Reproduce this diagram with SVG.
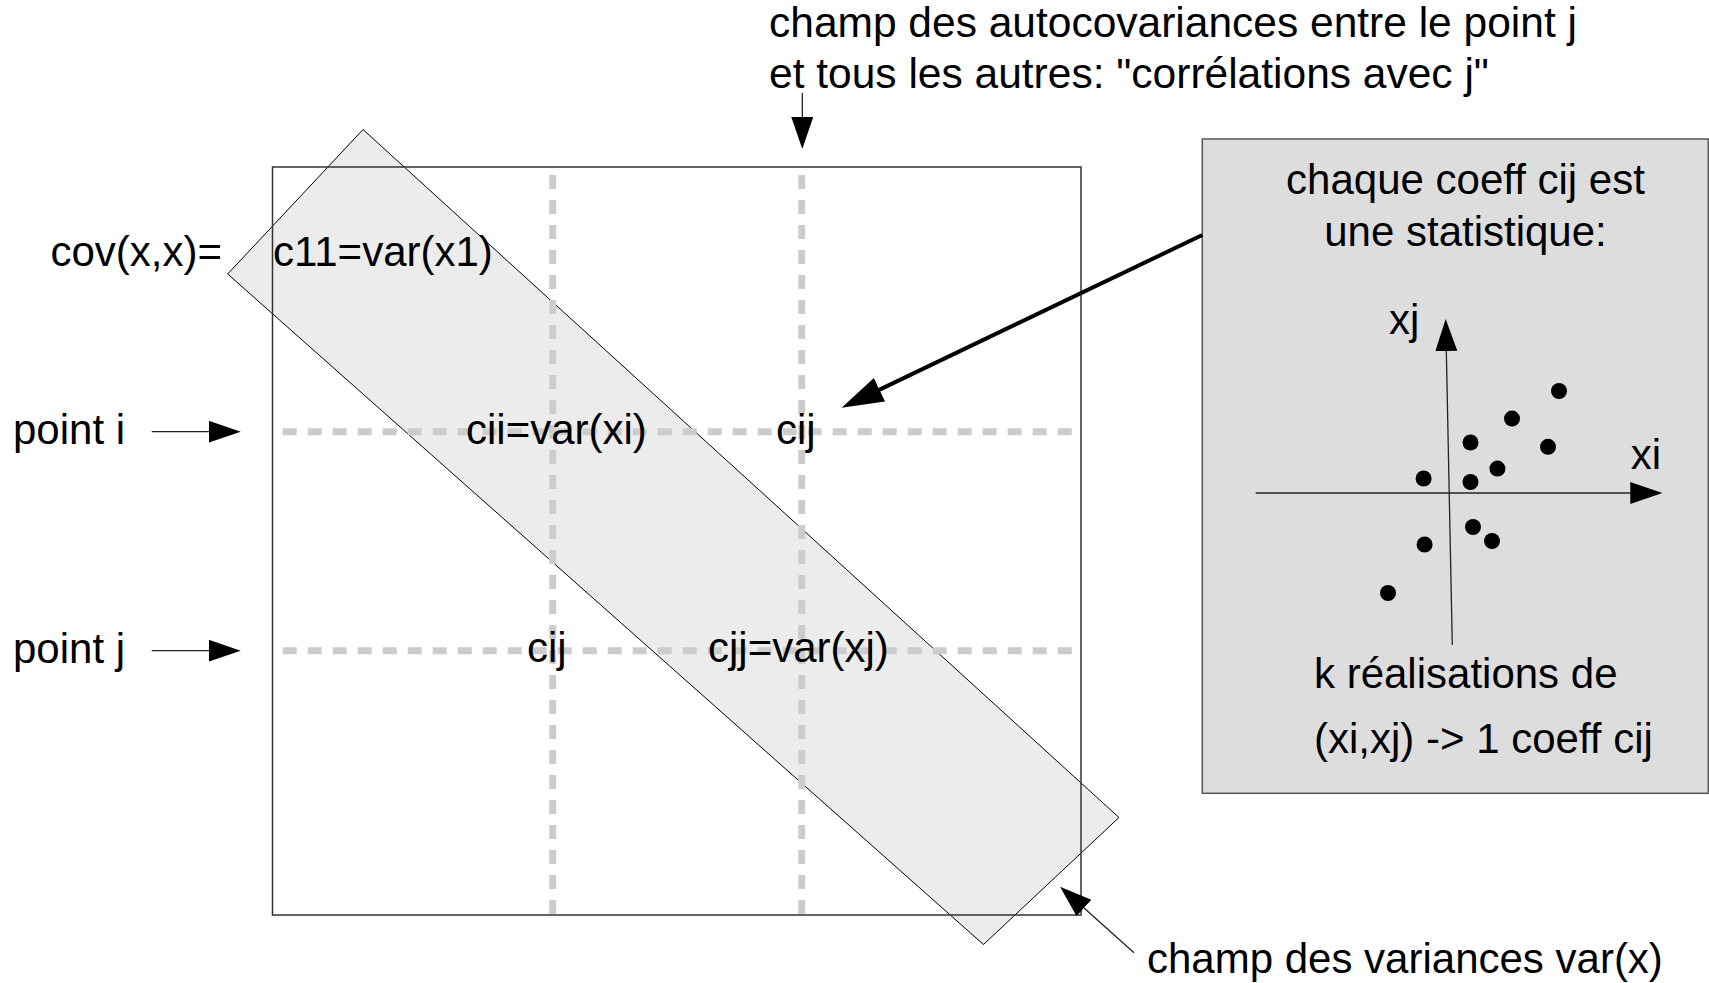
<svg xmlns="http://www.w3.org/2000/svg" width="1709" height="983" viewBox="0 0 1709 983">
<style>
  text { font-family: "Liberation Sans", Arial, sans-serif; font-size: 42px; fill: #000; }
  .big { font-size: 42.5px; }
  .dash { stroke: #cccccc; stroke-width: 7; stroke-dasharray: 14 11; fill: none; }
  .thin { stroke: #222; stroke-width: 1.3; fill: none; marker-end: url(#arr); }
  .thick { stroke: #000; stroke-width: 4; fill: none; marker-end: url(#arrBig); }
  .dot { fill: #000; }
</style>
<defs>
  <marker id="arr" markerUnits="userSpaceOnUse" markerWidth="34" markerHeight="24" refX="1" refY="11" orient="auto">
    <path d="M0,0 L32,11 L0,22 Z" fill="#000"/>
  </marker>
  <marker id="arrBig" markerUnits="userSpaceOnUse" markerWidth="44" markerHeight="28" refX="1" refY="13" orient="auto">
    <path d="M0,0 L42,13 L0,26 Z" fill="#000"/>
  </marker>
</defs>
<rect width="1709" height="983" fill="#fff"/>

<g id="variance-band">
  <polygon points="363,129.5 1119,817.5 983.5,944.5 227.7,274" fill="#ececec" stroke="#000" stroke-width="1"/>
</g>

<g id="matrix">
  <rect x="272.5" y="167" width="808.5" height="748" fill="none" stroke="#333" stroke-width="1.5"/>
  <line class="dash" x1="282.7" y1="431.7" x2="1081" y2="431.7"/>
  <line class="dash" x1="282.7" y1="650.7" x2="1081" y2="650.7"/>
  <line class="dash" x1="552.7" y1="175" x2="552.7" y2="922"/>
  <line class="dash" x1="801.7" y1="175" x2="801.7" y2="922"/>
  <text x="273" y="266">c11=var(x1)</text>
  <text x="466" y="444">cii=var(xi)</text>
  <text x="776" y="444">cij</text>
  <text x="527" y="662">cij</text>
  <text x="708" y="662">cjj=var(xj)</text>
</g>

<g id="label-cov">
  <text x="50.5" y="266">cov(x,x)=</text>
</g>
<g id="label-point-i">
  <text x="13" y="444">point i</text>
</g>
<g id="label-point-j">
  <text x="13" y="663">point j</text>
</g>
<g id="label-autocov">
  <text class="big" x="769" y="37">champ des autocovariances entre le point j</text>
  <text class="big" x="769" y="88">et tous les autres: "corrélations avec j"</text>
</g>
<g id="label-variances">
  <text x="1147" y="973">champ des variances var(x)</text>
</g>

<g id="info-box">
  <rect x="1202.3" y="139" width="506" height="654.3" fill="#dddddd" stroke="#555" stroke-width="1.5"/>
  <text x="1465.5" y="194" text-anchor="middle">chaque coeff cij est</text>
  <text x="1465.5" y="246" text-anchor="middle">une statistique:</text>
  <text x="1389" y="334">xj</text>
  <text x="1630.7" y="469">xi</text>
  <text x="1314" y="688">k réalisations de</text>
  <text x="1314" y="753">(xi,xj) -&gt; 1 coeff cij</text>
  <line class="thin" x1="1255.7" y1="493" x2="1631.3" y2="493"/>
  <line class="thin" x1="1452.3" y1="645" x2="1446.3" y2="350"/>
  <circle class="dot" cx="1559" cy="391" r="8"/>
  <circle class="dot" cx="1512" cy="418.6" r="8"/>
  <circle class="dot" cx="1470.5" cy="442.5" r="8"/>
  <circle class="dot" cx="1548" cy="446.8" r="8"/>
  <circle class="dot" cx="1497.4" cy="468.6" r="8"/>
  <circle class="dot" cx="1423.6" cy="478.5" r="8"/>
  <circle class="dot" cx="1470.5" cy="482" r="8"/>
  <circle class="dot" cx="1473" cy="527" r="8"/>
  <circle class="dot" cx="1492" cy="541" r="8"/>
  <circle class="dot" cx="1424.6" cy="544.5" r="8"/>
  <circle class="dot" cx="1388" cy="593" r="8"/>
</g>

<g id="connectors">
  <line class="thin" x1="151.7" y1="431.7" x2="209.7" y2="431.7"/>
  <line class="thin" x1="151.7" y1="650.7" x2="209.7" y2="650.7"/>
  <line class="thin" x1="802.3" y1="93" x2="802.3" y2="118"/>
  <line class="thin" x1="1134" y1="952.7" x2="1083.2" y2="907.3"/>
  <line class="thick" x1="1202.3" y1="235" x2="878.6" y2="390.1"/>
</g>
</svg>
